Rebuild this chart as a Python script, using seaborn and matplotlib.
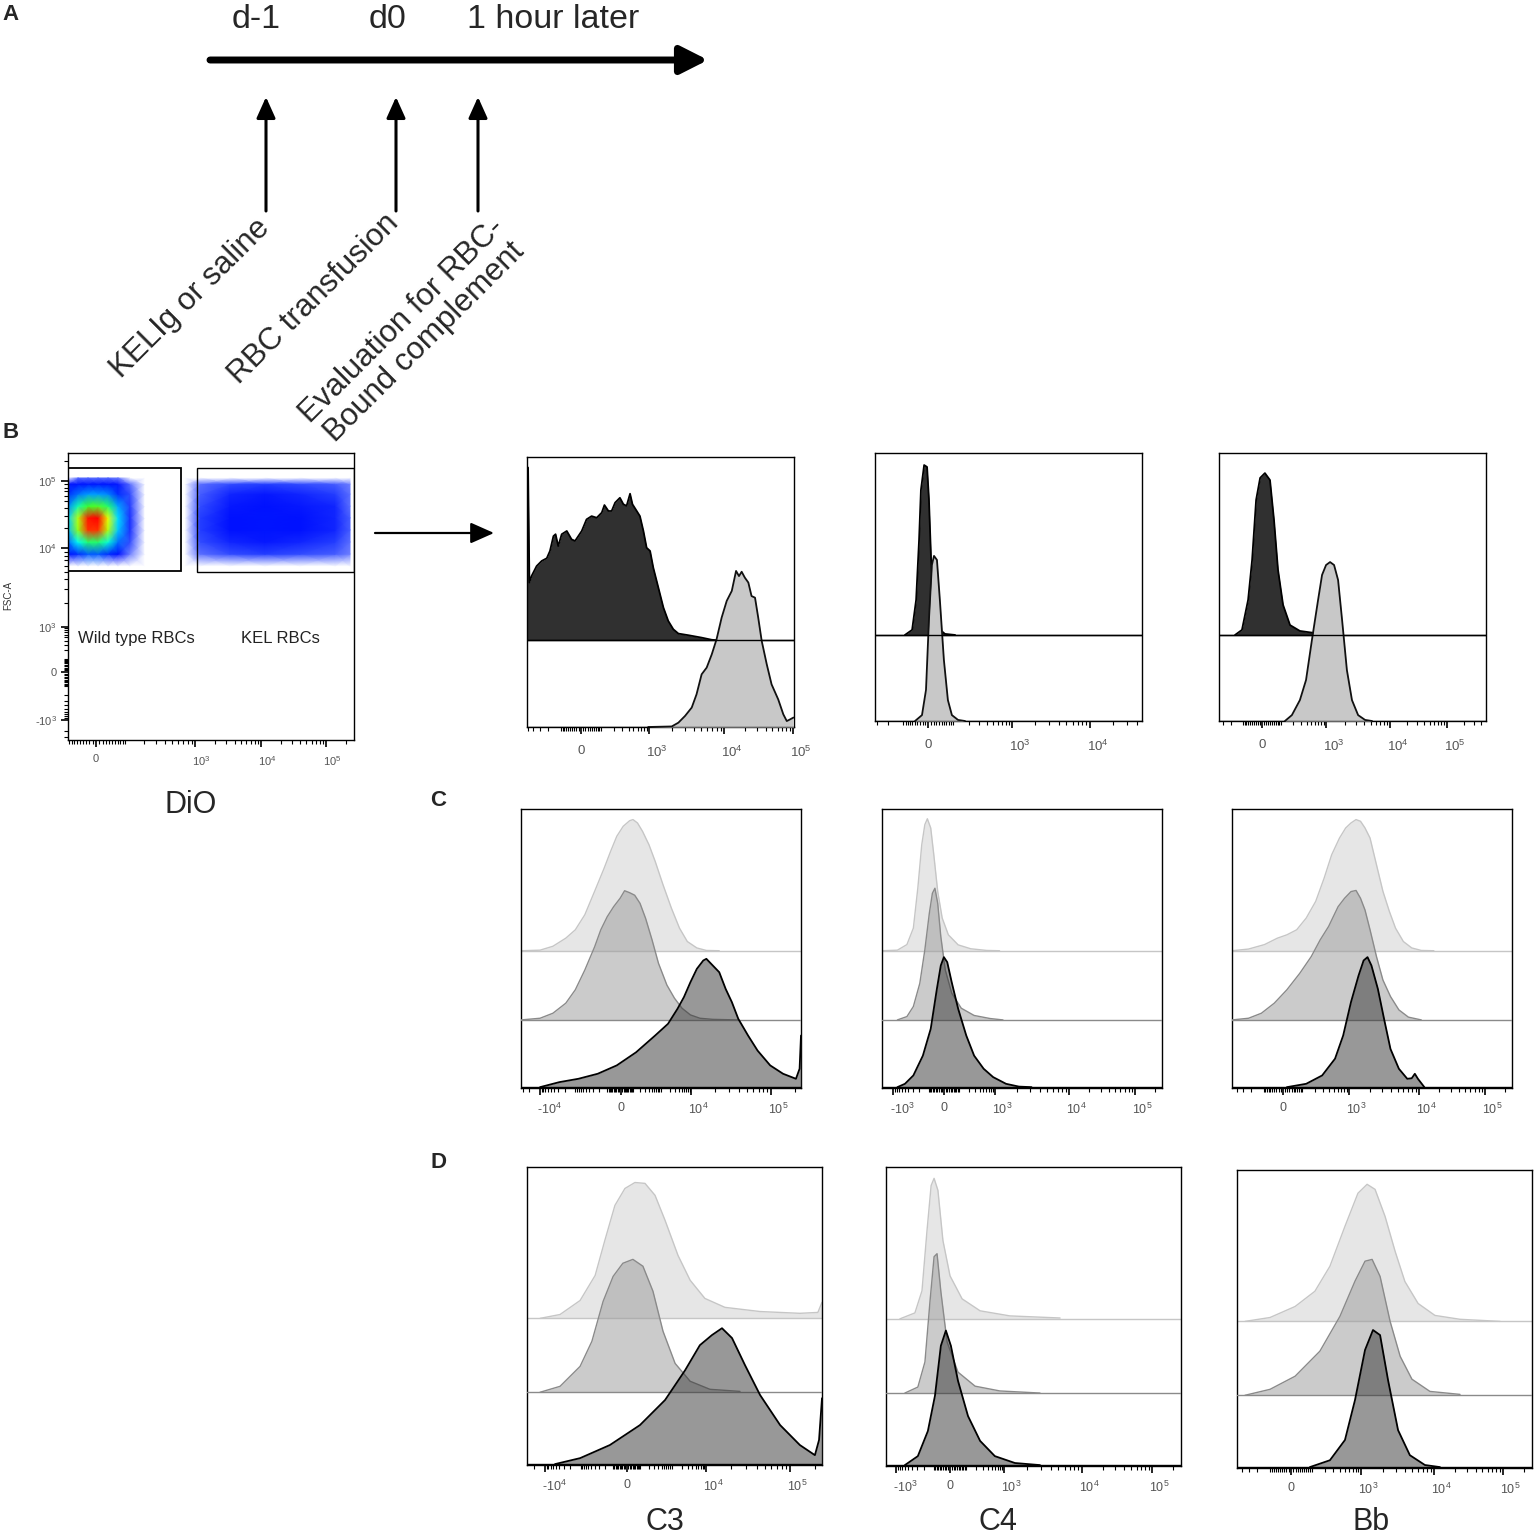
import numpy as np
import matplotlib
matplotlib.use('Agg')
import matplotlib.pyplot as plt
from matplotlib.colors import LinearSegmentedColormap, Normalize
from matplotlib.patches import Rectangle, FancyArrowPatch
from matplotlib.transforms import ScaledTranslation
import seaborn as sns

sns.set_theme(style='white')
plt.rcParams['font.family'] = ['Liberation Sans', 'DejaVu Sans']
plt.rcParams['mathtext.default'] = 'regular'

W, H = 1536, 1537

# ---------------- data ----------------
# panel A timeline
TIMELINE_DAYS = ['d-1', 'd0', '1 hour later']
TIMELINE_EVENTS = ['KELIg or saline', 'RBC transfusion', 'Evaluation for RBC-\nBound complement']

# panel B dot plot: DiO (x) vs FSC-A (y), density on a coarse grid (display channel 0-1)
SCAT_DIO = [0.0, 0.035, 0.070, 0.105, 0.140, 0.175, 0.217, 0.269, 0.339, 0.409,
            0.462, 0.566, 0.689, 0.811, 0.934, 0.986]
SCAT_FSC = [0.606, 0.648, 0.690, 0.732, 0.774, 0.815, 0.857, 0.892, 0.913]
SCAT_DENSITY = [
    [0.00, 0.03, 0.04, 0.04, 0.03, 0.00, 0.00, 0.00, 0.00, 0.00, 0.00, 0.00, 0.00, 0.00, 0.00, 0.00],
    [0.14, 0.20, 0.24, 0.24, 0.20, 0.13, 0.05, 0.02, 0.00, 0.02, 0.06, 0.08, 0.09, 0.08, 0.07, 0.05],
    [0.25, 0.40, 0.50, 0.50, 0.42, 0.26, 0.08, 0.03, 0.02, 0.03, 0.08, 0.11, 0.12, 0.11, 0.09, 0.06],
    [0.33, 0.60, 0.85, 0.85, 0.62, 0.34, 0.10, 0.04, 0.03, 0.04, 0.09, 0.13, 0.14, 0.13, 0.11, 0.07],
    [0.35, 0.62, 0.88, 0.90, 0.65, 0.36, 0.10, 0.04, 0.03, 0.04, 0.09, 0.13, 0.14, 0.13, 0.11, 0.07],
    [0.28, 0.45, 0.55, 0.56, 0.50, 0.31, 0.09, 0.04, 0.03, 0.03, 0.08, 0.12, 0.13, 0.12, 0.11, 0.06],
    [0.20, 0.26, 0.30, 0.30, 0.28, 0.20, 0.08, 0.03, 0.03, 0.03, 0.07, 0.11, 0.12, 0.11, 0.09, 0.06],
    [0.12, 0.15, 0.16, 0.16, 0.15, 0.12, 0.06, 0.03, 0.02, 0.02, 0.06, 0.08, 0.09, 0.08, 0.07, 0.05],
    [0.03, 0.06, 0.06, 0.06, 0.06, 0.05, 0.03, 0.00, 0.00, 0.00, 0.00, 0.00, 0.00, 0.00, 0.00, 0.00],
]
GATE_NAMES = ['Wild type RBCs', 'KEL RBCs']

# panel B histograms (x = display channel, h = height as fraction of plot)
B_C3_WT_X = [0.000, 0.004, 0.009, 0.017, 0.036, 0.055, 0.074, 0.086, 0.099, 0.107, 0.117, 0.130,
             0.149, 0.167, 0.180, 0.205, 0.223, 0.242, 0.261, 0.280, 0.290, 0.305, 0.317,
             0.330, 0.348, 0.361, 0.373, 0.386, 0.395, 0.411, 0.423, 0.436, 0.448, 0.461,
             0.473, 0.492, 0.511, 0.529, 0.548, 0.567, 0.604, 0.654, 0.692, 0.717]
B_C3_WT_H = [0.640, 0.640, 0.214, 0.238, 0.275, 0.294, 0.304, 0.331, 0.386, 0.393, 0.349, 0.393,
             0.405, 0.374, 0.368, 0.405, 0.448, 0.460, 0.454, 0.473, 0.501, 0.479, 0.479,
             0.510, 0.528, 0.504, 0.498, 0.543, 0.504, 0.479, 0.460, 0.405, 0.343, 0.331,
             0.269, 0.195, 0.121, 0.072, 0.041, 0.025, 0.019, 0.010, 0.002, 0.0]
B_C3_KEL_X = [0.454, 0.542, 0.567, 0.592, 0.617, 0.635, 0.654, 0.673, 0.692, 0.710, 0.729,
              0.748, 0.767, 0.783, 0.794, 0.804, 0.816, 0.829, 0.841, 0.854, 0.866, 0.879,
              0.898, 0.916, 0.941, 0.960, 0.973, 0.985, 0.998]
B_C3_KEL_H = [0.0, 0.002, 0.016, 0.041, 0.072, 0.121, 0.195, 0.220, 0.269, 0.325, 0.405,
              0.467, 0.504, 0.578, 0.559, 0.575, 0.553, 0.535, 0.485, 0.479, 0.405, 0.319,
              0.232, 0.158, 0.102, 0.047, 0.022, 0.028, 0.035]

B_C4_WT_X = [0.112, 0.139, 0.154, 0.165, 0.172, 0.184, 0.195, 0.202, 0.210, 0.221, 0.236, 0.262, 0.300]
B_C4_WT_H = [0.0, 0.019, 0.131, 0.354, 0.541, 0.634, 0.627, 0.507, 0.284, 0.093, 0.026, 0.004, 0.0]
B_C4_KEL_X = [0.150, 0.176, 0.191, 0.202, 0.213, 0.221, 0.232, 0.243, 0.258, 0.273, 0.288, 0.311, 0.337]
B_C4_KEL_H = [0.0, 0.022, 0.116, 0.377, 0.582, 0.616, 0.601, 0.451, 0.228, 0.078, 0.022, 0.004, 0.0]

B_BB_WT_X = [0.060, 0.086, 0.109, 0.124, 0.139, 0.154, 0.172, 0.191, 0.206, 0.221, 0.240,
             0.266, 0.303, 0.360, 0.416]
B_BB_WT_H = [0.0, 0.019, 0.131, 0.280, 0.504, 0.586, 0.604, 0.578, 0.429, 0.243, 0.112,
             0.037, 0.015, 0.007, 0.0]
B_BB_KEL_X = [0.247, 0.273, 0.303, 0.326, 0.348, 0.371, 0.386, 0.401, 0.416, 0.431, 0.446,
              0.461, 0.479, 0.498, 0.521, 0.547, 0.573]
B_BB_KEL_H = [0.0, 0.022, 0.078, 0.153, 0.302, 0.451, 0.545, 0.582, 0.593, 0.582, 0.526,
              0.377, 0.190, 0.078, 0.022, 0.004, 0.0]

# panel C histograms (top / middle / bottom layers)
C_C3_TOP_X = [0.0, 0.068, 0.114, 0.160, 0.194, 0.228, 0.263, 0.297, 0.320, 0.342, 0.365, 0.388,
              0.400, 0.416, 0.434, 0.457, 0.479, 0.507, 0.537, 0.566, 0.594, 0.628, 0.662, 0.708]
C_C3_TOP_H = [0.0, 0.002, 0.016, 0.045, 0.075, 0.129, 0.213, 0.296, 0.356, 0.410, 0.446, 0.466,
              0.470, 0.458, 0.428, 0.380, 0.321, 0.237, 0.153, 0.081, 0.033, 0.010, 0.001, 0.0]
C_C3_MID_X = [0.0, 0.068, 0.114, 0.160, 0.194, 0.228, 0.263, 0.285, 0.308, 0.331, 0.354, 0.370,
              0.388, 0.406, 0.425, 0.445, 0.468, 0.491, 0.521, 0.548, 0.575, 0.605, 0.639, 0.685, 0.776]
C_C3_MID_H = [0.0, 0.006, 0.024, 0.060, 0.108, 0.179, 0.262, 0.323, 0.370, 0.406, 0.436, 0.463,
              0.456, 0.447, 0.418, 0.364, 0.287, 0.203, 0.125, 0.078, 0.042, 0.018, 0.006, 0.002, 0.0]
C_C3_BOT_X = [0.068, 0.137, 0.205, 0.274, 0.342, 0.411, 0.479, 0.525, 0.559, 0.582, 0.605, 0.628,
              0.651, 0.662, 0.685, 0.708, 0.731, 0.753, 0.776, 0.811, 0.845, 0.890, 0.936, 0.982,
              0.995, 1.0]
C_C3_BOT_H = [0.0, 0.018, 0.030, 0.048, 0.078, 0.125, 0.185, 0.227, 0.281, 0.323, 0.376, 0.424,
              0.454, 0.460, 0.436, 0.412, 0.352, 0.305, 0.245, 0.185, 0.131, 0.078, 0.048, 0.030,
              0.066, 0.185]

C_C4_TOP_X = [0.0, 0.055, 0.089, 0.112, 0.128, 0.142, 0.153, 0.162, 0.174, 0.185, 0.199, 0.215,
              0.237, 0.272, 0.317, 0.374, 0.420]
C_C4_TOP_H = [0.0, 0.002, 0.022, 0.081, 0.225, 0.380, 0.452, 0.473, 0.440, 0.344, 0.212, 0.117,
              0.057, 0.021, 0.007, 0.001, 0.0]
C_C4_MID_X = [0.055, 0.089, 0.112, 0.135, 0.153, 0.169, 0.180, 0.189, 0.199, 0.210, 0.226, 0.249,
              0.283, 0.329, 0.386, 0.432]
C_C4_MID_H = [0.0, 0.012, 0.048, 0.131, 0.251, 0.382, 0.454, 0.472, 0.418, 0.299, 0.179, 0.096,
              0.042, 0.016, 0.005, 0.0]
C_C4_BOT_X = [0.055, 0.082, 0.112, 0.146, 0.174, 0.196, 0.210, 0.221, 0.233, 0.249, 0.272, 0.301,
              0.329, 0.363, 0.397, 0.443, 0.489, 0.534]
C_C4_BOT_H = [0.0, 0.012, 0.042, 0.113, 0.209, 0.352, 0.436, 0.466, 0.448, 0.376, 0.281, 0.185,
              0.113, 0.066, 0.036, 0.012, 0.002, 0.0]

C_BB_TOP_X = [0.0, 0.059, 0.116, 0.162, 0.196, 0.231, 0.265, 0.299, 0.329, 0.356, 0.384, 0.406,
              0.425, 0.443, 0.459, 0.475, 0.493, 0.516, 0.539, 0.562, 0.584, 0.612, 0.642, 0.676, 0.721]
C_BB_TOP_H = [0.0, 0.006, 0.022, 0.045, 0.057, 0.075, 0.117, 0.177, 0.260, 0.344, 0.404, 0.440,
              0.458, 0.470, 0.464, 0.440, 0.404, 0.308, 0.213, 0.141, 0.081, 0.033, 0.010, 0.001, 0.0]
C_BB_MID_X = [0.0, 0.059, 0.105, 0.151, 0.196, 0.242, 0.283, 0.315, 0.345, 0.379, 0.402, 0.425,
              0.443, 0.459, 0.475, 0.493, 0.516, 0.539, 0.566, 0.596, 0.630, 0.676]
C_BB_MID_H = [0.0, 0.006, 0.024, 0.060, 0.108, 0.167, 0.227, 0.287, 0.335, 0.406, 0.436, 0.460,
              0.464, 0.436, 0.394, 0.323, 0.227, 0.143, 0.084, 0.036, 0.010, 0.0]
C_BB_BOT_X = [0.196, 0.265, 0.322, 0.368, 0.397, 0.425, 0.452, 0.470, 0.484, 0.498, 0.521, 0.543,
              0.566, 0.596, 0.626, 0.642, 0.653, 0.664, 0.687]
C_BB_BOT_H = [0.0, 0.012, 0.042, 0.102, 0.185, 0.305, 0.400, 0.454, 0.466, 0.436, 0.352, 0.245,
              0.137, 0.066, 0.030, 0.032, 0.048, 0.030, 0.0]

# panel D histograms
D_C3_TOP_X = [0.044, 0.112, 0.180, 0.231, 0.264, 0.298, 0.332, 0.366, 0.400, 0.434, 0.468, 0.512,
              0.553, 0.603, 0.671, 0.790, 0.925, 0.986, 1.0]
D_C3_TOP_H = [0.0, 0.013, 0.060, 0.144, 0.262, 0.379, 0.436, 0.456, 0.453, 0.413, 0.329, 0.211,
              0.128, 0.067, 0.037, 0.023, 0.017, 0.020, 0.054]
D_C3_MID_X = [0.044, 0.112, 0.180, 0.220, 0.258, 0.292, 0.325, 0.359, 0.393, 0.427, 0.461, 0.502,
              0.553, 0.620, 0.722]
D_C3_MID_H = [0.0, 0.020, 0.087, 0.171, 0.305, 0.389, 0.433, 0.446, 0.423, 0.339, 0.205, 0.097,
              0.037, 0.010, 0.003]
D_C3_BOT_X = [0.095, 0.180, 0.281, 0.383, 0.468, 0.536, 0.586, 0.627, 0.661, 0.695, 0.739, 0.790,
              0.858, 0.925, 0.976, 0.990, 1.0]
D_C3_BOT_H = [0.0, 0.020, 0.064, 0.131, 0.215, 0.315, 0.399, 0.433, 0.456, 0.423, 0.332, 0.232,
              0.131, 0.064, 0.030, 0.081, 0.221]

D_C4_TOP_X = [0.047, 0.098, 0.122, 0.139, 0.153, 0.163, 0.176, 0.193, 0.217, 0.258, 0.319, 0.420, 0.590]
D_C4_TOP_H = [0.0, 0.020, 0.094, 0.295, 0.446, 0.470, 0.430, 0.262, 0.144, 0.067, 0.027, 0.010, 0.003]
D_C4_MID_X = [0.064, 0.108, 0.132, 0.149, 0.163, 0.173, 0.186, 0.207, 0.244, 0.302, 0.386, 0.522]
D_C4_MID_H = [0.0, 0.020, 0.104, 0.305, 0.456, 0.466, 0.339, 0.171, 0.070, 0.023, 0.007, 0.0]
D_C4_BOT_X = [0.064, 0.108, 0.142, 0.166, 0.186, 0.203, 0.220, 0.244, 0.278, 0.319, 0.369, 0.437, 0.522]
D_C4_BOT_H = [0.0, 0.030, 0.114, 0.232, 0.399, 0.450, 0.399, 0.282, 0.164, 0.081, 0.030, 0.007, 0.0]

D_BB_TOP_X = [0.027, 0.112, 0.197, 0.264, 0.315, 0.366, 0.410, 0.441, 0.468, 0.502, 0.536, 0.569,
              0.614, 0.671, 0.756, 0.892]
D_BB_TOP_H = [0.0, 0.013, 0.050, 0.101, 0.185, 0.319, 0.430, 0.460, 0.443, 0.352, 0.235, 0.134,
              0.060, 0.020, 0.007, 0.0]
D_BB_MID_X = [0.027, 0.112, 0.197, 0.281, 0.349, 0.400, 0.434, 0.458, 0.485, 0.519, 0.553, 0.593,
              0.654, 0.756]
D_BB_MID_H = [0.0, 0.020, 0.064, 0.148, 0.265, 0.383, 0.450, 0.456, 0.399, 0.248, 0.131, 0.054,
              0.013, 0.003]
D_BB_BOT_X = [0.247, 0.315, 0.366, 0.400, 0.434, 0.461, 0.485, 0.512, 0.546, 0.586, 0.637, 0.688]
D_BB_BOT_H = [0.0, 0.023, 0.091, 0.225, 0.393, 0.460, 0.443, 0.292, 0.124, 0.040, 0.007, 0.0]

MARKERS = ['C3', 'C4', 'Bb']

# axis calibration: fluorescence value -> display channel
SCAT_X_TICKS = {0: 0.098, 1e3: 0.444, 1e4: 0.675, 1e5: 0.902}
SCAT_Y_TICKS = {-1e3: 0.070, 0: 0.237, 1e3: 0.394, 1e4: 0.669, 1e5: 0.902}
B_TICKS = [{0: 0.202, 1e3: 0.457, 1e4: 0.738, 1e5: 0.996},
           {0: 0.199, 1e3: 0.513, 1e4: 0.805},
           {0: 0.161, 1e3: 0.401, 1e4: 0.640, 1e5: 0.854}]
C_TICKS = [{-1e4: 0.068, 0: 0.357, 1e4: 0.607, 1e5: 0.893},
           {-1e3: 0.039, 0: 0.221, 1e3: 0.404, 1e4: 0.668, 1e5: 0.904},
           {0: 0.182, 1e3: 0.418, 1e4: 0.668, 1e5: 0.904}]
D_TICKS = [{-1e4: 0.061, 0: 0.339, 1e4: 0.607, 1e5: 0.892},
           {-1e3: 0.034, 0: 0.217, 1e3: 0.400, 1e4: 0.664, 1e5: 0.902},
           {0: 0.183, 1e3: 0.420, 1e4: 0.668, 1e5: 0.902}]


# ---------------- helpers ----------------
def flow_pos(vals, majors, c=100.0):
    mv = np.array(sorted(majors))
    mp = np.array([majors[v] for v in mv])
    mu = np.arcsinh(mv / c)
    u = np.arcsinh(np.asarray(vals, dtype=float) / c)
    p = np.interp(u, mu, mp)
    lo, hi = u < mu[0], u > mu[-1]
    p[lo] = mp[0] + (u[lo] - mu[0]) * (mp[1] - mp[0]) / (mu[1] - mu[0])
    p[hi] = mp[-1] + (u[hi] - mu[-1]) * (mp[-1] - mp[-2]) / (mu[-1] - mu[-2])
    return p


def flow_label(v):
    if v == 0:
        return '0'
    sign = '-' if v < 0 else ''
    return sign + '$10^{%d}$' % round(np.log10(abs(v)))


def flow_axis(ax, majors, which='x', fs=9, pad=3):
    mv = sorted(majors)
    mp = [majors[v] for v in mv]
    base = np.array([m * 10.0 ** k for k in range(1, 6) for m in range(1, 10)])
    minors = np.concatenate([-base, base])
    minors = minors[~np.isin(minors, mv)]
    mpos = flow_pos(minors, majors)
    mpos = mpos[(mpos > 0.004) & (mpos < 0.996)]
    labels = [flow_label(v) for v in mv]
    if which == 'x':
        ax.set_xticks(mp, labels)
        ax.set_xticks(mpos, minor=True)
        ax.tick_params(axis='x', which='both', bottom=True, direction='out',
                       labelsize=fs, labelcolor='#555555', color='black', pad=pad)
        ax.tick_params(axis='x', which='major', length=5, width=1.2)
        ax.tick_params(axis='x', which='minor', length=3, width=0.8)
        off = ScaledTranslation(-2 / 72, 0, ax.figure.dpi_scale_trans)
        for lab in ax.get_xticklabels():
            if lab.get_text() != '0':
                lab.set_horizontalalignment('left')
                lab.set_transform(lab.get_transform() + off)
    else:
        ax.set_yticks(mp, labels)
        ax.set_yticks(mpos, minor=True)
        ax.tick_params(axis='y', which='both', left=True, direction='out',
                       labelsize=fs, labelcolor='#555555', color='black', pad=pad)
        ax.tick_params(axis='y', which='major', length=5, width=1.2)
        ax.tick_params(axis='y', which='minor', length=3, width=0.8)


def px_axes(l, t, r, b):
    return fig.add_axes([l / W, 1 - b / H, (r - l) / W, (b - t) / H])


def hist_axes(l, t, r, b):
    ax = px_axes(l, t, r, b)
    ax.set_xlim(0, 1)
    ax.set_ylim(0, 1)
    ax.set_yticks([])
    for s in ax.spines.values():
        s.set_color('black')
        s.set_linewidth(1.0)
    return ax


def draw_layer(ax, x, h, base, face, edge, alpha, lw, z):
    x = np.asarray(x)
    y = base + np.asarray(h)
    ax.fill_between(x, base, y, color=face, alpha=alpha, lw=0, zorder=z)
    sns.lineplot(x=x, y=y, ax=ax, color=edge, lw=lw, sort=False, estimator=None, zorder=z + 0.5)
    ax.axhline(base, color=edge, lw=1.0, zorder=z + 0.5)


# ---------------- figure ----------------
fig = plt.figure(figsize=(W / 100, H / 100), dpi=100)

# overlay for schematic / labels (pixel coordinates)
ov = fig.add_axes([0, 0, 1, 1])
ov.set_xlim(0, W)
ov.set_ylim(H, 0)
ov.axis('off')
ov.patch.set_alpha(0)

# panel A
ov.add_patch(FancyArrowPatch((210, 60), (708, 60), arrowstyle='-|>,head_length=0.75,head_width=0.38',
                             mutation_scale=22, lw=5, color='black', shrinkA=0, shrinkB=0))
day_x = [256, 388, 553]
event_x = [266, 396, 478]
for dx, lab in zip(day_x, TIMELINE_DAYS):
    ov.text(dx, 19, lab, fontsize=24.5, ha='center', va='center')
for ex in event_x:
    ov.add_patch(FancyArrowPatch((ex, 211), (ex, 97), arrowstyle='-|>,head_length=0.8,head_width=0.36',
                                 mutation_scale=16, lw=2.2, color='black', shrinkA=0, shrinkB=0))
ov.text(271, 229, TIMELINE_EVENTS[0], fontsize=22.5, rotation=45, rotation_mode='anchor',
        ha='right', va='baseline')
ov.text(400, 224, TIMELINE_EVENTS[1], fontsize=22.5, rotation=45, rotation_mode='anchor',
        ha='right', va='baseline')
ov.text(511, 234, TIMELINE_EVENTS[2], fontsize=22.5, rotation=45, rotation_mode='anchor',
        ha='right', va='center', multialignment='center', linespacing=1.05)

# panel letters and axis titles
ov.text(2, 15, 'A', fontsize=16, fontweight='bold', va='center')
ov.text(2, 432, 'B', fontsize=16, fontweight='bold', va='center')
ov.text(430, 800, 'C', fontsize=16, fontweight='bold', va='center')
ov.text(430, 1162, 'D', fontsize=16, fontweight='bold', va='center')
ov.text(191, 805, 'DiO', fontsize=22, ha='center', va='center')
ov.text(8, 595, 'FSC-A', fontsize=7, rotation=90, ha='center', va='center', color='#333333')
for cx, lab in zip([665, 998, 1371], MARKERS):
    ov.text(cx, 1522, lab, fontsize=22, ha='center', va='center')
ov.add_patch(FancyArrowPatch((375, 533), (494, 533), arrowstyle='-|>,head_length=0.9,head_width=0.4',
                             mutation_scale=16, lw=1.6, color='black', shrinkA=0, shrinkB=0))

# panel B dot plot
ax_s = px_axes(68, 453, 354, 740)
ax_s.set_xlim(0, 1)
ax_s.set_ylim(0, 1)
for s in ax_s.spines.values():
    s.set_color('black')
    s.set_linewidth(1.0)
cmap = LinearSegmentedColormap.from_list('flow', [
    (0.0, '#6f80ff'), (0.04, '#2a45ff'), (0.09, '#0010ff'), (0.16, '#0020ff'), (0.3, '#00a0ff'),
    (0.4, '#00ffff'), (0.58, '#30ff30'), (0.72, '#ffff00'), (0.85, '#ff8000'), (1.0, '#ff0000')])
cmap.set_under('white')
ax_s.pcolormesh(SCAT_DIO, SCAT_FSC, np.array(SCAT_DENSITY), shading='gouraud',
                cmap=cmap, norm=Normalize(0.05, 0.9), zorder=1)
ax_s.add_patch(Rectangle((0.0, 0.589), 0.395, 0.359, fill=False, ec='black', lw=1.3, zorder=3))
ax_s.add_patch(Rectangle((0.451, 0.585), 0.549, 0.363, fill=False, ec='black', lw=1.0, zorder=3))
ax_s.text(0.035, 0.355, GATE_NAMES[0], fontsize=12, va='center', color='#222222')
ax_s.text(0.605, 0.355, GATE_NAMES[1], fontsize=12, va='center', color='#222222')
flow_axis(ax_s, SCAT_X_TICKS, 'x', fs=8, pad=5)
flow_axis(ax_s, SCAT_Y_TICKS, 'y', fs=8, pad=3)

# panel B histograms
b_boxes = [(527, 457, 794, 727), (875, 453, 1142, 721), (1219, 453, 1486, 721)]
b_data = [(B_C3_WT_X, B_C3_WT_H, B_C3_KEL_X, B_C3_KEL_H),
          (B_C4_WT_X, B_C4_WT_H, B_C4_KEL_X, B_C4_KEL_H),
          (B_BB_WT_X, B_BB_WT_H, B_BB_KEL_X, B_BB_KEL_H)]
for box, (wx, wh, kx, kh), ticks in zip(b_boxes, b_data, B_TICKS):
    ax = hist_axes(*box)
    draw_layer(ax, wx, wh, 0.321, '#303030', 'black', 1.0, 1.3, 2)
    draw_layer(ax, kx, kh, 0.0, '#c8c8c8', '#111111', 1.0, 1.3, 3)
    ax.axhline(0.321, color='black', lw=1.0, zorder=5)
    flow_axis(ax, ticks, 'x', fs=9.5, pad=8)

# panels C and D
layer_style = [  # top, middle, bottom
    (0.492, '#cfcfcf', '#c6c6c6', 0.5, 1.0),
    (0.244, '#999999', '#8a8a8a', 0.5, 1.0),
    (0.003, '#333333', '#000000', 0.5, 1.3),
]
c_boxes = [(521, 809, 801, 1088), (882, 809, 1162, 1088), (1232, 809, 1512, 1088)]
c_data = [(C_C3_TOP_X, C_C3_TOP_H, C_C3_MID_X, C_C3_MID_H, C_C3_BOT_X, C_C3_BOT_H),
          (C_C4_TOP_X, C_C4_TOP_H, C_C4_MID_X, C_C4_MID_H, C_C4_BOT_X, C_C4_BOT_H),
          (C_BB_TOP_X, C_BB_TOP_H, C_BB_MID_X, C_BB_MID_H, C_BB_BOT_X, C_BB_BOT_H)]
d_boxes = [(527, 1167, 822, 1465), (886, 1167, 1181, 1466), (1237, 1170, 1532, 1468)]
d_data = [(D_C3_TOP_X, D_C3_TOP_H, D_C3_MID_X, D_C3_MID_H, D_C3_BOT_X, D_C3_BOT_H),
          (D_C4_TOP_X, D_C4_TOP_H, D_C4_MID_X, D_C4_MID_H, D_C4_BOT_X, D_C4_BOT_H),
          (D_BB_TOP_X, D_BB_TOP_H, D_BB_MID_X, D_BB_MID_H, D_BB_BOT_X, D_BB_BOT_H)]
for boxes, data, tick_sets in [(c_boxes, c_data, C_TICKS), (d_boxes, d_data, D_TICKS)]:
    for box, d, ticks in zip(boxes, data, tick_sets):
        ax = hist_axes(*box)
        for i, (base, face, edge, alpha, lw) in enumerate(layer_style):
            draw_layer(ax, d[2 * i], d[2 * i + 1], base, face, edge, alpha, lw, 2 + i)
        flow_axis(ax, ticks, 'x', fs=9, pad=5)

fig.savefig('out.png', dpi=100)
